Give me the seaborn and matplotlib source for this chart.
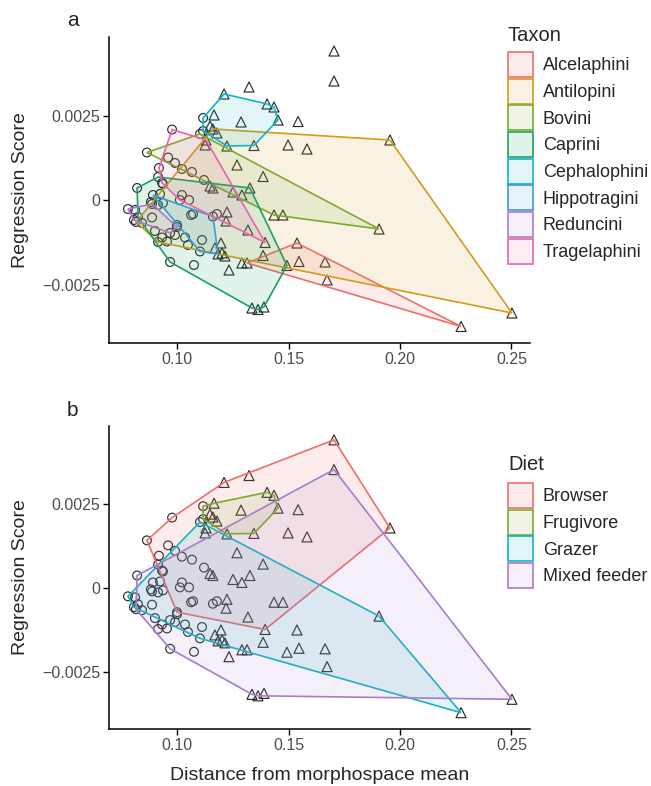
import numpy as np
import pandas as pd
import matplotlib
matplotlib.use("Agg")
import matplotlib.pyplot as plt
from matplotlib.patches import Polygon, Patch
from matplotlib.colors import to_rgba
import seaborn as sns

# ---- data ----
# blocks: unassigned, Cephalophini, Antilopini, Bovini, Caprini,
#         Hippotragini, Reduncini, Alcelaphini, Tragelaphini
dist = [
    0.1704, 0.1704, 0.1323, 0.1543,
    0.1211, 0.1117, 0.1117, 0.1166, 0.1287, 0.1404, 0.1435, 0.1453, 0.1345, 0.1224, 0.1179, 0.1148,
    0.1161, 0.1955, 0.2502, 0.0816, 0.0915, 0.1498, 0.1583, 0.1318, 0.1251,
    0.0865, 0.1103, 0.1906, 0.1435, 0.1475, 0.1126, 0.1269, 0.1386,
    0.0821, 0.0915, 0.1327, 0.1493, 0.1336, 0.1363, 0.1390, 0.0969, 0.0825, 0.1000,
    0.1076, 0.1049, 0.1036, 0.0955, 0.0933, 0.0901, 0.0843, 0.0888, 0.0991, 0.1054,
    0.1022, 0.0883, 0.0915, 0.0937, 0.0924, 0.0937, 0.1161, 0.1148, 0.1291, 0.1220,
    0.1197, 0.1170, 0.1202, 0.1215, 0.1386, 0.1291, 0.1233, 0.1179,
    0.0892, 0.1161, 0.1184, 0.1103, 0.1072, 0.1112, 0.1063,
    0.0780, 0.0888, 0.1000, 0.0969, 0.0807, 0.0812,
    0.1314, 0.1538, 0.1547, 0.1664, 0.1673, 0.2274,
    0.0978, 0.1130, 0.1395, 0.1013, 0.0933, 0.0919, 0.0960, 0.0991, 0.1022, 0.1067, 0.1121, 0.1224,
]
score = [
    0.004410, 0.003525, 0.003348, 0.002330,
    0.003142, 0.002434, 0.002050, 0.002522, 0.002316, 0.002847, 0.002758, 0.002375, 0.001622, 0.001608, 0.001991, 0.002198,
    0.002109, 0.001785, -0.003319, -0.000634, -0.001224, 0.001637, 0.001519, -0.000870, 0.000251,
    0.001416, 0.001962, -0.000841, -0.000428, -0.000428, 0.001637, 0.001047, 0.000708,
    0.000369, 0.000693, 0.000369, -0.001917, -0.003171, -0.003215, -0.003142, -0.001814, -0.000487, -0.000723,
    -0.001903, -0.001313, -0.001091, -0.001209, -0.001091, -0.000900, -0.000664, -0.000501, -0.001018, 0.000015,
    0.000162, -0.000044, -0.000133, -0.000074, 0.000192, 0.000487, 0.000369, 0.000428, 0.000162, -0.000605,
    -0.001254, -0.001401, -0.001549, -0.001637, -0.001622, -0.001844, -0.002050, -0.000398,
    0.000162, -0.000472, -0.001578, -0.001504, -0.000398, -0.001165, -0.000428,
    -0.000251, -0.000103, -0.000782, -0.000959, -0.000575, -0.000280,
    -0.001844, -0.001254, -0.001799, -0.001814, -0.002345, -0.003717,
    0.002094, 0.001785, -0.001239, 0.000015, 0.000516, 0.000959, 0.001268, 0.001106, 0.000929, 0.000841, 0.000605, -0.000339,
]
# c = circle, t = triangle
shape = list(
    "tttt"
    + "tccttttttttt"
    + "tttcctttt"
    + "cctttttt"
    + "cctttttccccccccccccccccccctttttttttttc"
    + "cctcccc"
    + "cccccc"
    + "tttttt"
    + "cttcccccccct"
)
taxon = (
    [None] * 4
    + ["Cephalophini"] * 12
    + ["Antilopini"] * 9
    + ["Bovini"] * 8
    + ["Caprini"] * 38
    + ["Hippotragini"] * 7
    + ["Reduncini"] * 6
    + ["Alcelaphini"] * 6
    + ["Tragelaphini"] * 12
)
diet_code = list(
    "BMBM"
    + "BFFFFFFFFFFF"
    + "BBMMMMMMM"
    + "BGGGGGGG"
    + "MMMMMMMMMB" + "M" * 28
    + "GGGGGGG"
    + "GGGGGG"
    + "GGGGGG"
    + "BBBBBBBBBBBB"
)

taxa = ["Alcelaphini", "Antilopini", "Bovini", "Caprini", "Cephalophini",
        "Hippotragini", "Reduncini", "Tragelaphini"]
taxon_colors = ["#EE6E6A", "#D49A1E", "#7DAA2E", "#18A35E", "#12B5C4",
                "#3C9BDA", "#A97CCB", "#E864AC"]
diets = ["Browser", "Frugivore", "Grazer", "Mixed feeder"]
diet_colors = ["#EE6E6A", "#7DAA2E", "#12B5C4", "#A97CCB"]
diet_names = {"B": "Browser", "F": "Frugivore", "G": "Grazer", "M": "Mixed feeder"}

df = pd.DataFrame({"dist": dist, "score": score, "shape": shape,
                   "Taxon": taxon, "Diet": [diet_names[d] for d in diet_code]})


def convex_hull(pts):
    # monotone chain
    pts = sorted(set(map(tuple, pts)))
    if len(pts) < 3:
        return np.array(pts)

    def cross(o, a, b):
        return (a[0] - o[0]) * (b[1] - o[1]) - (a[1] - o[1]) * (b[0] - o[0])

    lower, upper = [], []
    for p in pts:
        while len(lower) >= 2 and cross(lower[-2], lower[-1], p) <= 0:
            lower.pop()
        lower.append(p)
    for p in reversed(pts):
        while len(upper) >= 2 and cross(upper[-2], upper[-1], p) <= 0:
            upper.pop()
        upper.append(p)
    return np.array(lower[:-1] + upper[:-1])


sns.set_style("ticks")
plt.rcParams["font.family"] = ["Liberation Sans", "DejaVu Sans"]

W, H = 651, 786
fig = plt.figure(figsize=(W / 100, H / 100), dpi=100)
ax_a = fig.add_axes([109 / W, 1 - 343 / H, 421 / W, 306 / H])
ax_b = fig.add_axes([109 / W, 1 - 729 / H, 421 / W, 303 / H])

xlim = (0.0695, 0.2583)
ylim = (-0.004204, 0.004823)
fill_alpha = 0.12


def draw_panel(ax, col, levels, colors, title, title_y, box_top):
    for code, mk, size in [("c", "o", 40), ("t", "^", 52)]:
        sub = df[df["shape"] == code]
        sns.scatterplot(data=sub, x="dist", y="score", marker=mk, s=size,
                        facecolor="none", edgecolor="#2b2b2b", linewidth=0.85,
                        legend=False, ax=ax, zorder=1.5)
    handles = []
    for lev, colr in zip(levels, colors):
        pts = df.loc[df[col] == lev, ["dist", "score"]].values
        hull = convex_hull(pts)
        ax.add_patch(Polygon(hull, closed=True, facecolor=to_rgba(colr, fill_alpha),
                             edgecolor=colr, linewidth=1.2, zorder=2))
        handles.append(Patch(facecolor=to_rgba(colr, fill_alpha), edgecolor=colr, linewidth=1.2))

    ax.set_xlim(*xlim)
    ax.set_ylim(*ylim)
    ax.set_xticks([0.10, 0.15, 0.20, 0.25])
    ax.set_xticklabels(["0.10", "0.15", "0.20", "0.25"])
    ax.set_yticks([-0.0025, 0, 0.0025])
    ax.set_yticklabels(["\u22120.0025", "0", "0.0025"])
    ax.tick_params(labelsize=11.5, colors="black", labelcolor="#4d4d4d",
                   length=4, width=1.0, pad=2.5)
    for s in ["top", "right"]:
        ax.spines[s].set_visible(False)
    for s in ["left", "bottom"]:
        ax.spines[s].set_linewidth(1.1)
        ax.spines[s].set_color("black")
    ax.set_ylabel("Regression Score", fontsize=14, labelpad=9)
    ax.set_xlabel("")

    fig.text(508 / W, 1 - title_y / H, title, fontsize=14.5, ha="left", va="top")
    fs = 13
    em = fs * 100 / 72
    ax.legend(handles, levels, loc="upper left",
              bbox_to_anchor=(508 / W, 1 - box_top / H),
              bbox_transform=fig.transFigure, frameon=False,
              handlelength=25 / em, handleheight=1.75, labelspacing=1.7 / em,
              handletextpad=10 / em, borderpad=0, borderaxespad=0,
              fontsize=fs)


draw_panel(ax_a, "Taxon", taxa, taxon_colors, "Taxon", 26, 52)
draw_panel(ax_b, "Diet", diets, diet_colors, "Diet", 455, 483)
ax_b.set_xlabel("Distance from morphospace mean", fontsize=14, labelpad=10)

fig.text(67 / W, 1 - 20 / H, "a", fontsize=15, va="center", ha="left")
fig.text(67 / W, 1 - 410 / H, "b", fontsize=15, va="center", ha="left")

fig.savefig("out.png", dpi=100)
